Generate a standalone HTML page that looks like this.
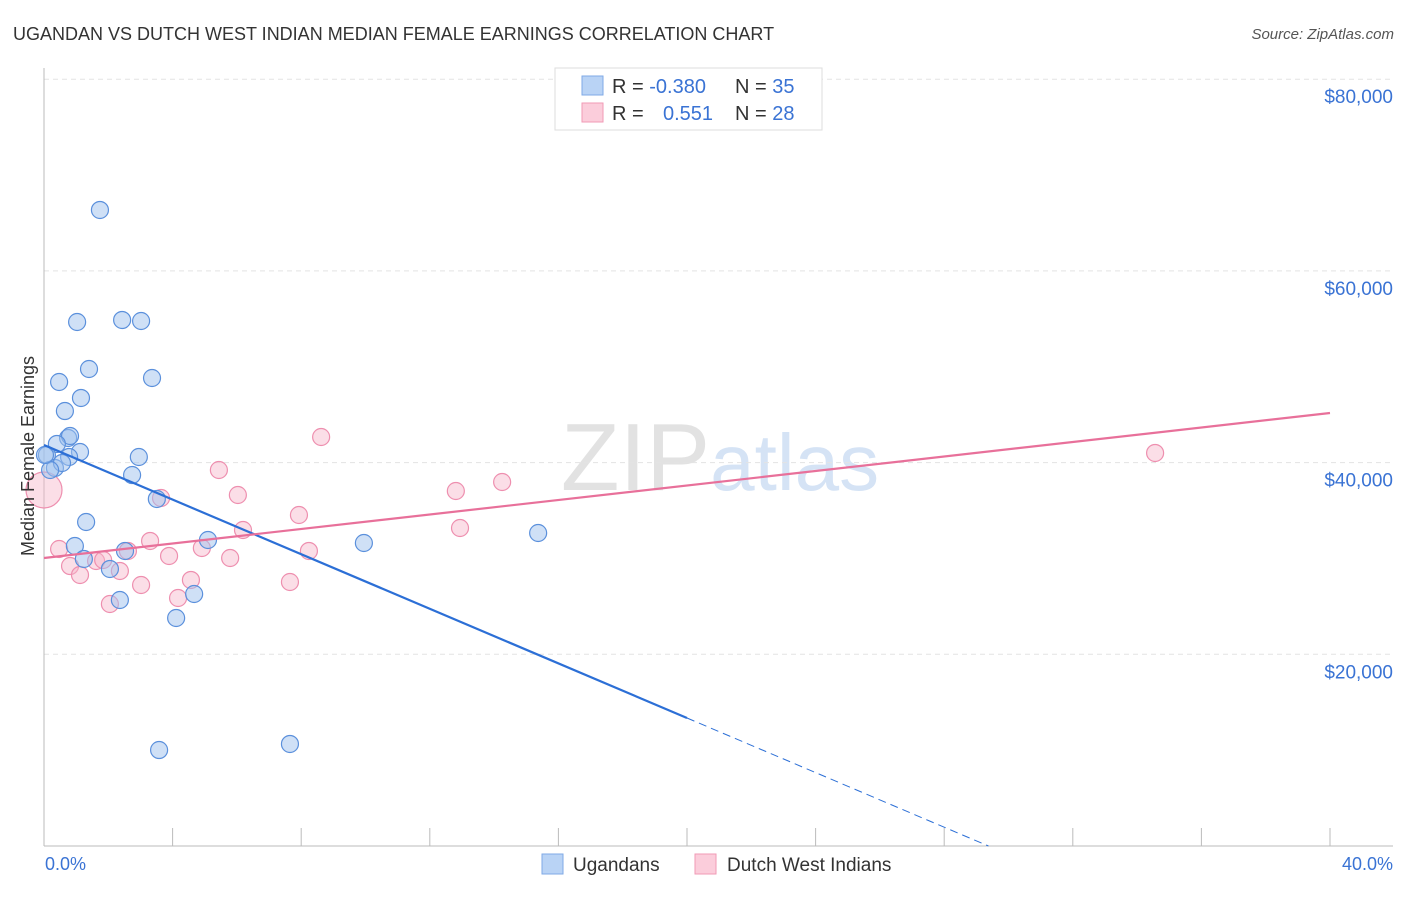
<!DOCTYPE html>
<html><head><meta charset="utf-8"><style>
body{margin:0;background:#fff;font-family:"Liberation Sans",sans-serif;}
svg text{font-family:"Liberation Sans",sans-serif;}
</style></head><body>
<svg id="chart" width="1406" height="892" xmlns="http://www.w3.org/2000/svg">
<text x="13" y="40" font-size="18" fill="#333">UGANDAN VS DUTCH WEST INDIAN MEDIAN FEMALE EARNINGS CORRELATION CHART</text>
<text x="1394" y="39" font-size="15" fill="#555" font-style="italic" text-anchor="end">Source: ZipAtlas.com</text>
<text x="720" y="490" font-size="96" fill="#e2e2e2" text-anchor="middle" font-family="Liberation Serif">ZIP<tspan fill="#d5e3f5" font-family="Liberation Sans" font-size="80">atlas</tspan></text>
<g id="grid"></g><g id="axes"></g><g id="pts"></g><g id="trend"></g>
<text transform="translate(34,456) rotate(-90)" font-size="18" fill="#333" text-anchor="middle">Median Female Earnings</text>
<text x="45" y="870" font-size="18" fill="#3a73d4">0.0%</text>
<text x="1393" y="870" font-size="18" fill="#3a73d4" text-anchor="end">40.0%</text>
<g>
<rect x="555" y="68" width="267" height="62" fill="#fff" stroke="#ddd"/>
<rect x="582" y="76" width="21" height="19" fill="#b9d3f5" stroke="#7faae6"/>
<rect x="582" y="103" width="21" height="19" fill="#fbcddb" stroke="#f09ab6"/>
<text x="612" y="93" font-size="20" fill="#333">R = <tspan fill="#3a73d4">-0.380</tspan><tspan x="735">N = </tspan><tspan fill="#3a73d4">35</tspan></text>
<text x="612" y="120" font-size="20" fill="#333">R = <tspan x="663" fill="#3a73d4">0.551</tspan><tspan x="735">N = </tspan><tspan fill="#3a73d4">28</tspan></text>
</g>
<g>
<rect x="542" y="854" width="21" height="20" fill="#b9d3f5" stroke="#7faae6"/>
<text x="573" y="871" font-size="19" fill="#333">Ugandans</text>
<rect x="695" y="854" width="21" height="20" fill="#fbcddb" stroke="#f09ab6"/>
<text x="727" y="871" font-size="19" fill="#333">Dutch West Indians</text>
</g>
</svg>
<script>
const yTicks=[20000,40000,60000,80000];
const yTickLabels=["$20,000","$40,000","$60,000","$80,000"];
const xTicks=[0,4,8,12,16,20,24,28,32,36,40];
const blueX=[1.74,1.03,2.43,3.02,1.40,0.47,3.36,1.15,0.65,0.75,0.81,0.40,1.12,0.78,2.95,0.09,0.34,0.56,2.74,0.19,3.51,1.31,0.96,2.52,5.10,9.95,15.37,1.24,2.05,2.36,4.67,4.11,3.58,7.65,0.03];
const blueY=[66354,54669,54878,54773,49765,48409,48826,46740,45383,42567,42775,41941,41106,40584,40584,40793,39437,39958,38706,39228,36203,33803,31299,30778,31925,31612,32655,29943,28900,25665,26291,23787,10015,10642,40793];
const pinkX=[0,8.62,5.44,14.25,12.81,6.03,3.64,7.93,6.19,12.94,3.30,0.47,2.61,8.24,4.91,5.79,3.89,1.62,0.81,2.36,1.12,4.57,7.65,3.02,4.17,2.05,34.56,1.84];
const pinkY=[37141,42671,39228,37976,37037,36620,36307,34533,32968,33177,31821,30986,30778,30778,31090,30047,30256,29734,29212,28691,28274,27752,27543,27230,25874,25248,41002,29838];
const blueTrend=[41836,-1424.1]; // intercept, slope per %
const pinkTrend=[30047,378.2];
const blueSolidEnd=20;
const NS="http://www.w3.org/2000/svg";
const xs=v=>44+v/40*1286;
const ys=v=>846-v/20000*191.7;
function mk(tag,attrs,parent){const e=document.createElementNS(NS,tag);for(const k in attrs)e.setAttribute(k,attrs[k]);parent.appendChild(e);return e;}
const grid=document.getElementById('grid'),axes=document.getElementById('axes'),pts=document.getElementById('pts'),trend=document.getElementById('trend');
yTicks.forEach((t,i)=>{
 const l=mk('line',{x1:44,x2:1393,y1:ys(t),y2:ys(t),stroke:'#e3e3e3','stroke-dasharray':'5,4'},grid);
 
 
 const tx=mk('text',{x:1393,y:ys(t)+24,'font-size':19,fill:'#3a73d4','text-anchor':'end'},axes);
 tx.textContent=yTickLabels[i];
 
 
});
const ax=mk('line',{x1:44,x2:44,y1:68,y2:846,stroke:'#bbb'},axes);


const bx=mk('line',{x1:44,x2:1393,y1:846,y2:846,stroke:'#bbb'},axes);


xTicks.forEach(t=>{
 const l=mk('line',{x1:xs(t),x2:xs(t),y1:828,y2:846,stroke:'#bbb'},axes);
 
 
});
pinkX.forEach((x,i)=>{
 const c=mk('circle',{cx:xs(x),cy:ys(pinkY[i]),r:i===0?18:8.5,fill:'#f7b6c9','fill-opacity':0.45,stroke:'#ee8faf','stroke-width':1.2},pts);
 
 
});
blueX.forEach((x,i)=>{
 const c=mk('circle',{cx:xs(x),cy:ys(blueY[i]),r:8.5,fill:'#9fc2ee','fill-opacity':0.5,stroke:'#5b90dc','stroke-width':1.2},pts);
 
 
});
const bf=x=>blueTrend[0]+blueTrend[1]*x;
const bZero=-blueTrend[0]/blueTrend[1];
const t1=mk('line',{x1:xs(0),y1:ys(bf(0)),x2:xs(blueSolidEnd),y2:ys(bf(blueSolidEnd)),stroke:'#2c6fd6','stroke-width':2.2},trend);


const t2=mk('line',{x1:xs(blueSolidEnd),y1:ys(bf(blueSolidEnd)),x2:xs(bZero),y2:ys(0),stroke:'#2c6fd6','stroke-width':1,'stroke-dasharray':'8,5'},trend);


const pf=x=>pinkTrend[0]+pinkTrend[1]*x;
const t3=mk('line',{x1:xs(0),y1:ys(pf(0)),x2:xs(40),y2:ys(pf(40)),stroke:'#e8709a','stroke-width':2.2},trend);


</script>
</body></html>
